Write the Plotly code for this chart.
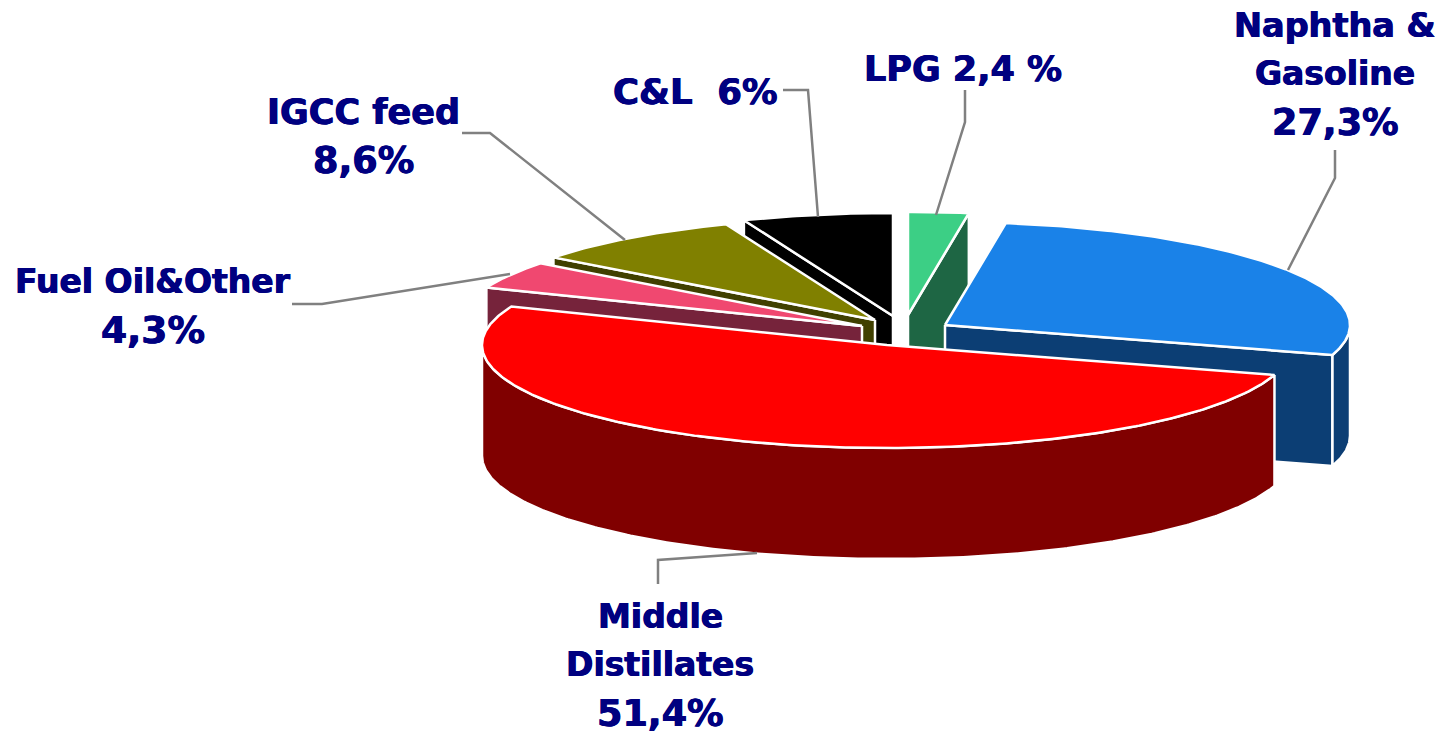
import numpy as np
import plotly.graph_objects as go

categories = ["LPG", "Naphtha & Gasoline", "Middle Distillates", "Fuel Oil&Other", "IGCC feed", "C&L"]
values = [2.4, 27.3, 51.4, 4.3, 8.6, 6.0]
top_colors = ["#3ccf85", "#1a82e8", "#ff0000", "#f04870", "#808000", "#000000"]
wall_colors = ["#1e6644", "#0c3e74", "#800000", "#76233b", "#404000", "#000000"]
apex_x = [908, 945, 887, 862, 875, 893]
apex_y = [315, 325, 345, 326, 320, 316]
draw_order = [0, 5, 4, 3, 1, 2]

label_lines = [["LPG 2,4 %"], ["Naphtha &", "Gasoline", "27,3%"], ["Middle", "Distillates", "51,4%"],
               ["Fuel Oil&Other", "4,3%"], ["IGCC feed", "8,6%"], ["C&L  6%"]]
label_sizes = [[35], [33.5, 33, 36.5], [33, 33, 36.5], [33, 37.5], [35, 36.5], [35.5]]
label_x = [963, 1335, 660, 153, 363, 695]
label_y = [69, 25, 616, 281, 112, 91]
leaders = [
    [(965, 90), (965, 122), (936, 215)],
    [(1335, 150), (1335, 178), (1288, 270)],
    [(757, 553), (658, 560), (658, 584)],
    [(292, 304), (322, 304), (510, 274)],
    [(462, 133), (490, 133), (625, 240)],
    [(783, 90), (808, 90), (818, 217)],
]

RX, RY, DEPTH = 405, 103, 111
LINE_STEP = 48.5
FONT = "DejaVu Sans"
NAVY = "#000080"

ends = np.cumsum(values) / sum(values) * 2 * np.pi
starts = np.concatenate([[0], ends[:-1]])


def rim(cx, cy, a0, a1, dy=0):
    n = max(2, int(abs(a1 - a0) / 0.01))
    a = np.linspace(a0, a1, n)
    return cx + RX * np.sin(a), cy - RY * np.cos(a) + dy


fig = go.Figure()


def poly(xs, ys, color, name):
    fig.add_trace(go.Scatter(x=list(xs), y=list(ys), mode="lines", fill="toself", fillcolor=color,
                             line=dict(color="white", width=2.5), hoverinfo="skip", name=name, showlegend=False))


for i in draw_order:
    cx, cy, a0, a1 = apex_x[i], apex_y[i], starts[i], ends[i]
    for ang, visible in ((a0, np.sin(a0) < -1e-6), (a1, np.sin(a1) > 1e-6)):
        if visible:
            px, py = rim(cx, cy, ang, ang + 1e-4)
            poly([cx, px[0], px[0], cx, cx], [cy, py[0], py[0] + DEPTH, cy + DEPTH, cy], wall_colors[i], categories[i])
    w0, w1 = max(a0, np.pi / 2), min(a1, 3 * np.pi / 2)
    if w1 > w0:
        tx, ty = rim(cx, cy, w0, w1)
        bx, by = rim(cx, cy, w1, w0, DEPTH)
        poly(np.r_[tx, bx, tx[0]], np.r_[ty, by, ty[0]], wall_colors[i], categories[i])
    tx, ty = rim(cx, cy, a0, a1)
    poly(np.r_[cx, tx, cx], np.r_[cy, ty, cy], top_colors[i], categories[i])

for pts in leaders:
    fig.add_trace(go.Scatter(x=[p[0] for p in pts], y=[p[1] for p in pts], mode="lines",
                             line=dict(color="#808080", width=2.5), hoverinfo="skip", showlegend=False))

for lines, sizes, x, y in zip(label_lines, label_sizes, label_x, label_y):
    for k, (t, s) in enumerate(zip(lines, sizes)):
        fig.add_annotation(x=x, y=y + k * LINE_STEP, text=f"<b>{t}</b>", showarrow=False, xanchor="center",
                           yanchor="middle",
                           font=dict(family=FONT, size=s, color=NAVY,
                                     shadow="0.5px 0 0 #000080, -0.5px 0 0 #000080"))

fig.update_xaxes(range=[0, 1440], visible=False, fixedrange=True)
fig.update_yaxes(range=[734, 0], visible=False, fixedrange=True)
fig.update_layout(width=1440, height=734, margin=dict(l=0, r=0, t=0, b=0), paper_bgcolor="white",
                  plot_bgcolor="white", showlegend=False)
fig.write_html("out.html", config={"displayModeBar": False},
               post_script="document.body.style.margin='0';document.body.style.overflow='hidden';")
